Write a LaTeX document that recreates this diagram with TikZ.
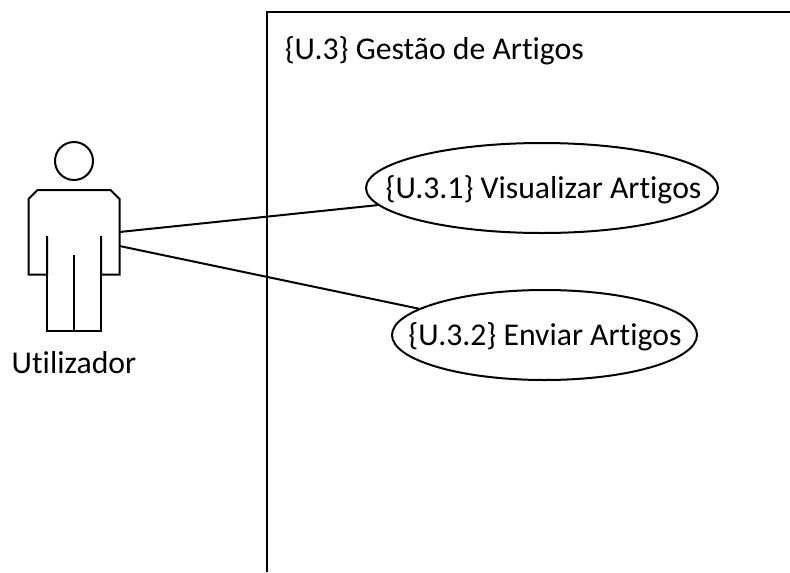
\documentclass[tikz,border=0pt]{standalone}
\usepackage{fontspec}
\setmainfont[Ligatures=CommonOff]{Carlito}
\usetikzlibrary{shapes.geometric}
\tikzset{
  px/.style={x=0.75pt,y=-0.75pt},
  ln/.style={draw=black,line width=1.5pt},
  usecase/.style={ellipse,ln,inner sep=0pt,minimum height=67.5pt},
  lbl/.style={inner sep=0pt,font=\fontsize{23.8}{28}\selectfont,text=black}
}
\begin{document}
\begin{tikzpicture}[px]
\useasboundingbox (0,0) rectangle (790,572);
% system boundary
\coordinate (bl) at (266.5,572);
\coordinate (tl) at (266.5,11.5);
\coordinate (tr) at (790,11.5);
\draw[ln,line join=miter] (bl) -- (tl) -- (tr);
\node[lbl,anchor=base west] (title) at (284.5,59) {\{U.3\} Gestão de Artigos};
% actor
\node[circle,ln,minimum size=28.5pt,inner sep=0pt] (head) at (74,161) {};
\draw[ln,line join=miter] (47,236) -- (47,274.5) -- (28.5,274.5) -- (28.5,199) -- (37.5,190) -- (110.5,190) -- (119.5,199) -- (119.5,274.5) -- (101,274.5) -- (101,236);
\coordinate (legl) at (47,274.5);
\coordinate (legr) at (101,274.5);
\coordinate (footl) at (47,331);
\coordinate (footr) at (101,331);
\coordinate (crotch) at (74,255);
\coordinate (footm) at (74,331);
\draw[ln,line join=miter] (legl) -- (footl) -- (footr) -- (legr);
\draw[ln] (crotch) -- (footm);
\node[lbl,anchor=base] (actor) at (74,373) {Utilizador};
\coordinate (a1) at (119.5,232);
\coordinate (a2) at (119.5,246);
% use cases
\node[usecase,minimum width=264pt] (e1) at (542,188) {};
\node[usecase,minimum width=228.75pt] (e2) at (544.5,335) {};
\node[lbl,anchor=base] (t1) at (543.5,198) {\{U.3.1\} Visualizar Artigos};
\node[lbl,anchor=base] (t2) at (545,345) {\{U.3.2\} Enviar Artigos};
\draw[ln] (a1) -- (e1);
\draw[ln] (a2) -- (e2);
\end{tikzpicture}
\end{document}
